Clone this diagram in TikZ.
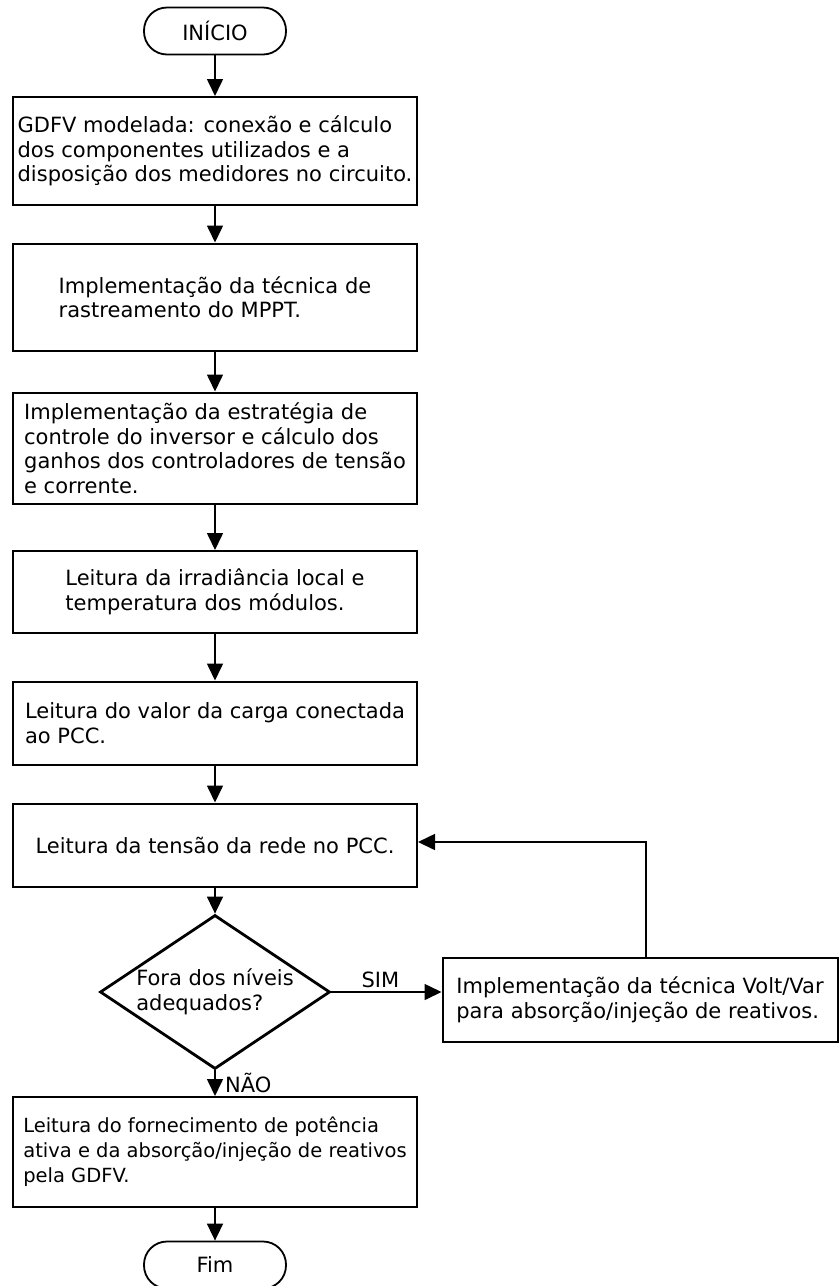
\documentclass[tikz,border=0pt]{standalone}
\usepackage{fontspec}
\setmainfont{DejaVu Sans}
\usetikzlibrary{arrows.meta, shapes.geometric}

\begin{document}
\begin{tikzpicture}[x=1pt, y=-1pt,
  every node/.style={font=\fontsize{21}{24.5}\selectfont},
  term/.style={draw, line width=1.8pt, rounded corners=23pt, minimum width=142pt, minimum height=47pt},
  proc/.style={draw, line width=2pt, rectangle, align=left, minimum width=404pt},
  dec/.style={draw, diamond, line width=2.8pt, aspect=1.5, minimum width=230pt, minimum height=154pt, inner sep=0pt, align=left},
  conn/.style={line width=1.6pt, -{Triangle[length=17pt, width=16pt]}}]
\useasboundingbox (0,0) rectangle (840,1286);
% etapas
\node[term] (inicio) at (215,31) {INÍCIO};
\node[proc, minimum height=108pt] (gdfv) at (215,151) {GDFV modelada: conexão e cálculo\\dos componentes utilizados e a\\disposição dos medidores no circuito.};
\node[proc, minimum height=107pt] (mppt) at (215,297) {Implementação da técnica de\\rastreamento do MPPT.};
\node[proc, minimum height=111pt] (ctrl) at (215,448) {Implementação da estratégia de\\controle do inversor e cálculo dos\\ganhos dos controladores de tensão\\e corrente.};
\node[proc, minimum height=82pt] (irrad) at (215,592) {Leitura da irradiância local e\\temperatura dos módulos.};
\node[proc, minimum height=83pt] (carga) at (215,723) {Leitura do valor da carga conectada\\ao PCC.};
\node[proc, minimum height=83pt] (tensao) at (215,845) {Leitura da tensão da rede no PCC.};
\node[dec] (niveis) at (215,992) {Fora dos níveis\\adequados?};
\node[proc, minimum width=395pt, minimum height=84pt] (voltvar) at (640,1000) {Implementação da técnica Volt/Var\\para absorção/injeção de reativos.};
\node[proc, minimum height=110pt, font=\fontsize{19.5}{25}\selectfont] (fornec) at (215,1152) {Leitura do fornecimento de potência\\ativa e da absorção/injeção de reativos\\pela GDFV.};
\node[term] (fim) at (215,1265) {Fim};
% ligacoes
\draw[conn] (inicio) -- (gdfv);
\draw[conn] (gdfv) -- (mppt);
\draw[conn] (mppt) -- (ctrl);
\draw[conn] (ctrl) -- (irrad);
\draw[conn] (irrad) -- (carga);
\draw[conn] (carga) -- (tensao);
\draw[conn] (tensao) -- (niveis);
\draw[conn] (niveis.east) -- (voltvar.west |- niveis.east) node[midway, above, xshift=-6pt] {SIM};
\draw[conn] ([xshift=6pt]voltvar.north) |- ([yshift=3pt]tensao.east);
\draw[conn] (niveis) -- (fornec) node[midway, right=6pt] {NÃO};
\draw[conn] (fornec) -- (fim);
\end{tikzpicture}
\end{document}
